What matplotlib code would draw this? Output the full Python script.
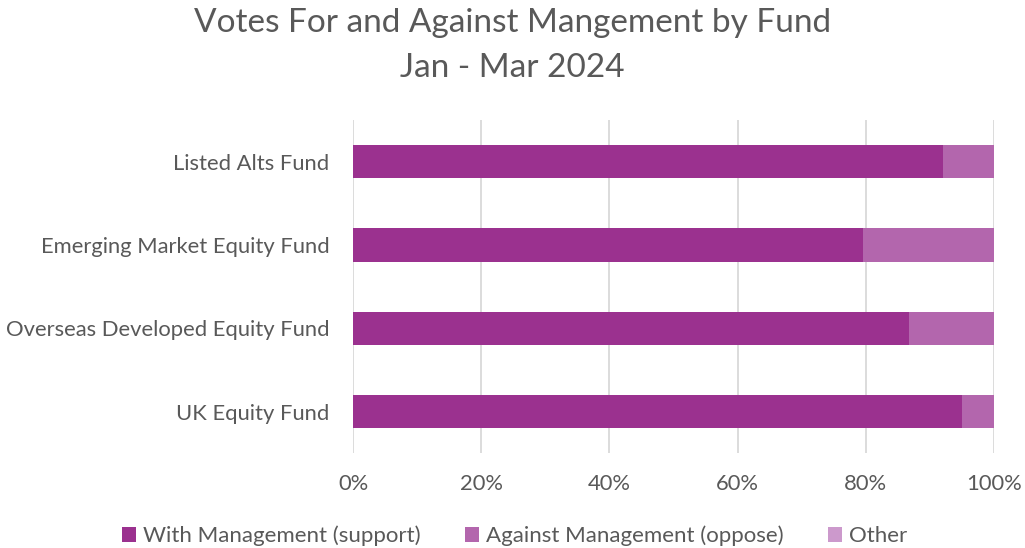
import matplotlib
matplotlib.use('Agg')
import matplotlib.pyplot as plt
from matplotlib.ticker import PercentFormatter

funds = ['UK Equity Fund', 'Overseas Developed Equity Fund',
         'Emerging Market Equity Fund', 'Listed Alts Fund']
support = [0.950, 0.867, 0.796, 0.920]
oppose = [0.050, 0.133, 0.204, 0.080]
other = [0.0, 0.0, 0.0, 0.0]

series = ['With Management (support)', 'Against Management (oppose)', 'Other']
colors = ['#9B318F', '#B366AD', '#CC99CC']

plt.rcParams['font.family'] = ['Lato', 'DejaVu Sans']
grey = '#595959'

fig = plt.figure(figsize=(10.25, 5.48), dpi=100)
ax = fig.add_axes([0.3444, 0.173, 0.6254, 0.608])

left = [0.0] * len(funds)
for vals, name, col in zip([support, oppose, other], series, colors):
    ax.barh(range(len(funds)), vals, left=left, height=0.4, color=col,
            label=name, zorder=3)
    left = [l + v for l, v in zip(left, vals)]

ax.set_xlim(0, 1)
ax.set_ylim(-0.5, len(funds) - 0.5)
ax.set_xticks([0, 0.2, 0.4, 0.6, 0.8, 1.0])
ax.xaxis.set_major_formatter(PercentFormatter(1.0, decimals=0))
ax.set_yticks(range(len(funds)))
ax.set_yticklabels(funds)
ax.grid(axis='x', color='#D9D9D9', lw=1.3, zorder=0)
for s in ax.spines.values():
    s.set_visible(False)
ax.tick_params(length=0, labelsize=15.8, colors=grey)
ax.tick_params(axis='x', pad=15)
ax.tick_params(axis='y', pad=17)

fig.suptitle('Votes For and Against Mangement by Fund\nJan - Mar 2024',
             y=0.985, fontsize=24, color=grey, linespacing=1.6)

fig.legend(loc='lower center', bbox_to_anchor=(0.502, -0.033), ncol=3,
           frameon=False, fontsize=16, labelcolor=grey, handlelength=0.65,
           handleheight=0.65, handletextpad=0.3, columnspacing=2.0)

fig.savefig('out.png', dpi=100)
